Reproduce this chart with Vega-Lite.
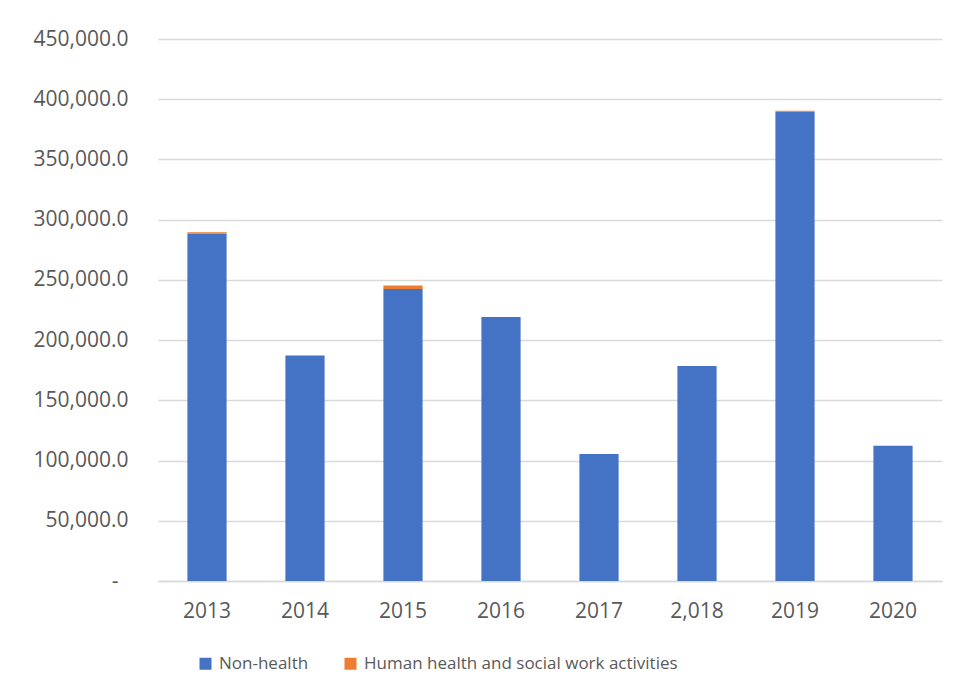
{
  "$schema": "https://vega.github.io/schema/vega-lite/v6.json",
  "autosize": {"type": "none"},
  "width": 784,
  "height": 542,
  "padding": {"left": 158, "top": 39, "right": 18, "bottom": 118},
  "background": "white",
  "data": {
    "values": [
      {"year": "2013", "series": "Non-health", "value": 288500},
      {"year": "2013", "series": "Human health and social work activities", "value": 1000},
      {"year": "2014", "series": "Non-health", "value": 187200},
      {"year": "2014", "series": "Human health and social work activities", "value": 0},
      {"year": "2015", "series": "Non-health", "value": 242500},
      {"year": "2015", "series": "Human health and social work activities", "value": 2900},
      {"year": "2016", "series": "Non-health", "value": 219200},
      {"year": "2016", "series": "Human health and social work activities", "value": 0},
      {"year": "2017", "series": "Non-health", "value": 105500},
      {"year": "2017", "series": "Human health and social work activities", "value": 0},
      {"year": "2,018", "series": "Non-health", "value": 178600},
      {"year": "2,018", "series": "Human health and social work activities", "value": 0},
      {"year": "2019", "series": "Non-health", "value": 389600},
      {"year": "2019", "series": "Human health and social work activities", "value": 900},
      {"year": "2020", "series": "Non-health", "value": 112200},
      {"year": "2020", "series": "Human health and social work activities", "value": 0}
    ]
  },
  "mark": {"type": "bar"},
  "encoding": {
    "x": {
      "field": "year",
      "type": "nominal",
      "sort": ["2013", "2014", "2015", "2016", "2017", "2,018", "2019", "2020"],
      "scale": {"paddingInner": 0.6, "paddingOuter": 0.3},
      "axis": {
        "title": null,
        "labelAngle": 0,
        "labelFont": "Open Sans",
        "labelFontSize": 21,
        "labelColor": "#595959",
        "labelPadding": 19,
        "ticks": false,
        "domainColor": "#d9d9d9",
        "domainWidth": 1.5,
        "grid": false
      }
    },
    "y": {
      "field": "value",
      "type": "quantitative",
      "stack": "zero",
      "scale": {"domain": [0, 450000], "nice": false},
      "axis": {
        "title": null,
        "values": [0, 50000, 100000, 150000, 200000, 250000, 300000, 350000, 400000, 450000],
        "labelExpr": "datum.value == 0 ? '-' : format(datum.value, ',.1f')",
        "labelFont": "Open Sans",
        "labelFontSize": 21,
        "labelColor": "#595959",
        "labelPadding": {"condition": {"test": "datum.value == 0", "value": 40}, "value": 30},
        "ticks": false,
        "domain": false,
        "grid": true,
        "gridColor": "#d9d9d9",
        "gridWidth": 1.3
      }
    },
    "color": {
      "field": "series",
      "type": "nominal",
      "scale": {
        "domain": ["Non-health", "Human health and social work activities"],
        "range": ["#4472C4", "#ED7D31"]
      },
      "legend": {
        "title": null,
        "orient": "none",
        "direction": "horizontal",
        "legendX": 39,
        "legendY": 616,
        "symbolType": "square",
        "symbolSize": 144,
        "symbolStrokeWidth": 0,
        "labelFont": "Open Sans",
        "labelFontSize": 17,
        "labelColor": "#595959",
        "labelOffset": 5,
        "labelLimit": 0,
        "columnPadding": 33
      }
    },
    "order": {"field": "series", "sort": "descending"}
  },
  "config": {"view": {"stroke": null}}
}
